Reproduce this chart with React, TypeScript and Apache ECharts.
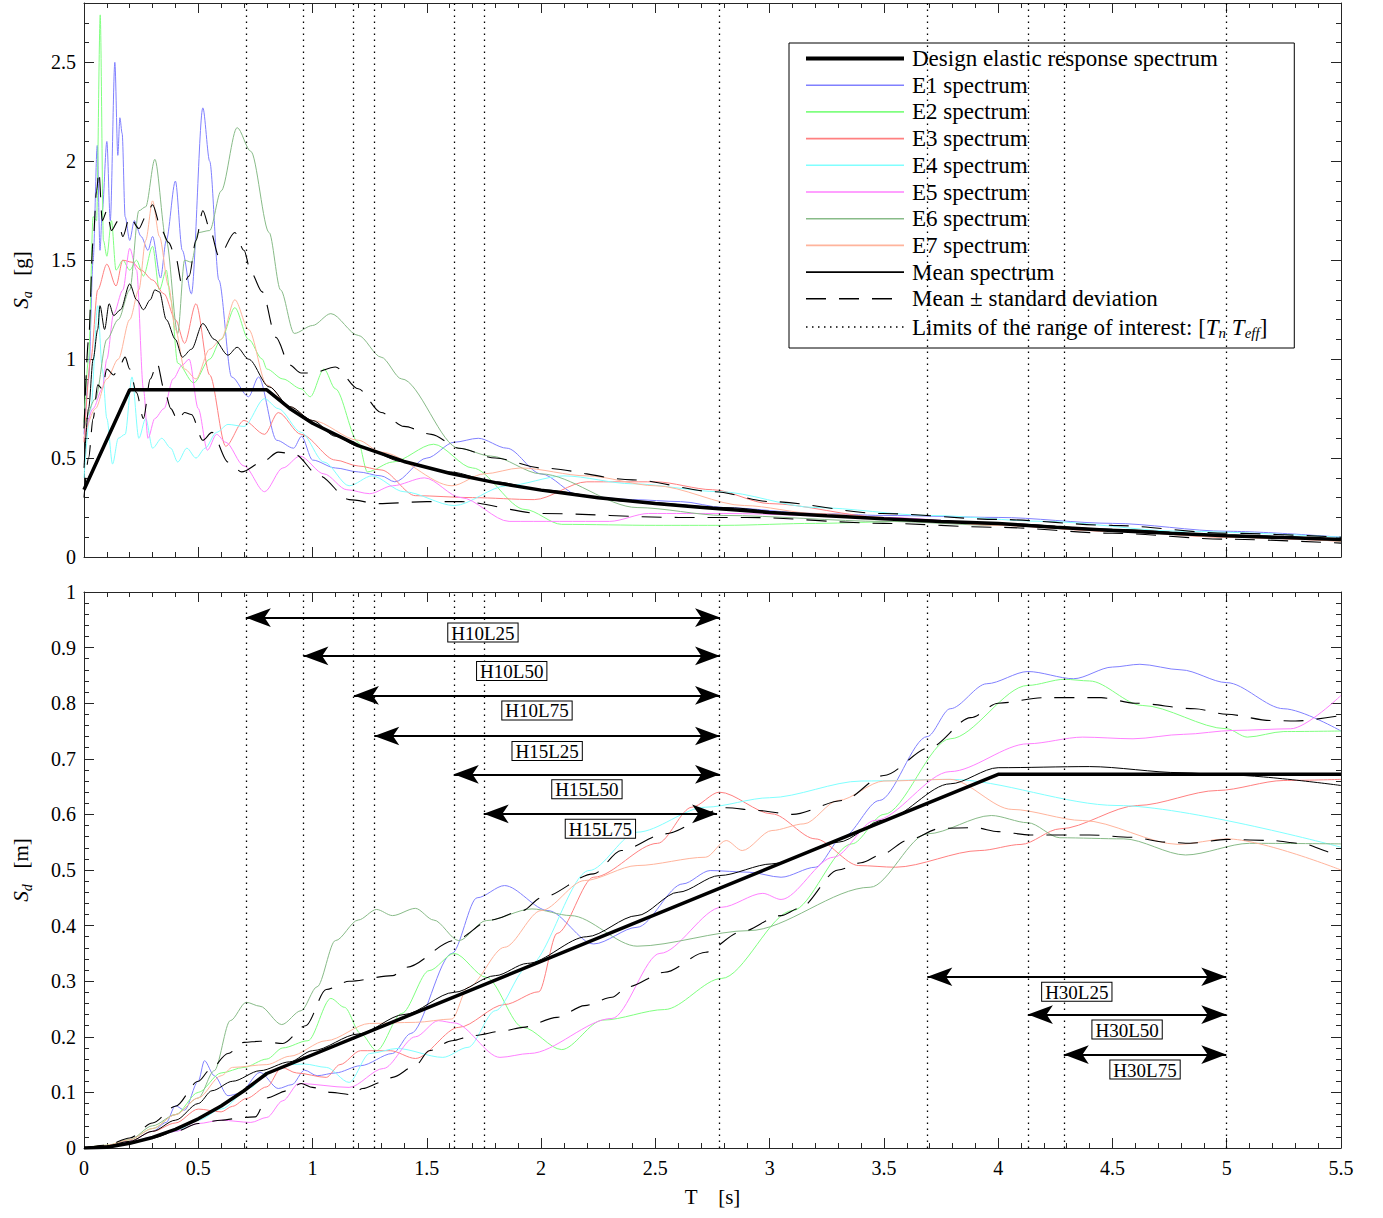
import React, { useEffect, useRef } from 'react';
import * as echarts from 'echarts';

const FONT = '"Liberation Serif", "Times New Roman", serif';
const AXIS_COLOR = '#262626';

const NAME_DESIGN = 'Design elastic response spectrum';
const NAME_E = ['E1 spectrum', 'E2 spectrum', 'E3 spectrum', 'E4 spectrum', 'E5 spectrum', 'E6 spectrum', 'E7 spectrum'];
const NAME_MEAN = 'Mean spectrum';
const NAME_STD = 'Mean \u00b1 standard deviation';
const NAME_LIM = 'Limits of the range of interest: [Tn Teff]';
const E_COLORS = ['#8080ff', '#80ff80', '#ff8080', '#80ffff', '#ff80ff', '#88bb88', '#ffb49c'];

// vertical limits of the ranges of interest [s]
const LIMITS_T = [0.708, 0.96, 1.181, 1.27, 1.618, 1.749, 2.783, 3.69, 4.13, 4.287, 4.998];
// range arrows
const RANGE_NAMES = ['H10L25', 'H10L50', 'H10L75', 'H15L25', 'H15L50', 'H15L75', 'H30L25', 'H30L50', 'H30L75'];
const RANGE_START = [0.708, 0.96, 1.181, 1.27, 1.618, 1.749, 3.69, 4.13, 4.287];
const RANGE_END = [2.783, 2.783, 2.783, 2.783, 2.783, 2.77, 4.998, 4.998, 4.998];
const RANGE_Y = [0.954, 0.885, 0.814, 0.741, 0.672, 0.601, 0.308, 0.24, 0.168];

// ---------- Sa [g] ----------
const DESIGN_SA = [[0, 0.34], [0.2, 0.845], [0.8, 0.845], [0.9, 0.751], [1.0, 0.676], [1.2, 0.563], [1.4, 0.483], [1.6, 0.423], [1.8, 0.376], [2.0, 0.338], [2.25, 0.3], [2.5, 0.27], [2.75, 0.246], [3.0, 0.225], [3.25, 0.208], [3.5, 0.193], [3.75, 0.18], [4.0, 0.169], [4.25, 0.15], [4.5, 0.134], [4.75, 0.12], [5.0, 0.108], [5.25, 0.098], [5.5, 0.089]];
const E1_SA = [[0, 0.62], [0.02, 0.9], [0.04, 1.5], [0.058, 2.08], [0.07, 1.55], [0.08, 1.75], [0.1, 2.1], [0.115, 1.7], [0.135, 2.5], [0.148, 2.03], [0.157, 2.22], [0.167, 2.14], [0.18, 1.72], [0.2, 1.6], [0.22, 1.7], [0.25, 1.62], [0.28, 1.55], [0.3, 1.62], [0.335, 1.41], [0.36, 1.6], [0.4, 1.9], [0.43, 1.55], [0.47, 1.33], [0.52, 2.27], [0.55, 2.0], [0.59, 1.4], [0.646, 0.91], [0.72, 0.81], [0.764, 0.91], [0.843, 0.59], [0.917, 0.55], [0.952, 0.61], [1.0, 0.49], [1.1, 0.45], [1.2, 0.43], [1.3, 0.41], [1.36, 0.38], [1.5, 0.5], [1.62, 0.58], [1.725, 0.6], [1.85, 0.55], [2.0, 0.42], [2.17, 0.31], [2.4, 0.29], [2.61, 0.28], [2.8, 0.25], [3.2, 0.22], [3.5, 0.21], [4.0, 0.2], [4.5, 0.17], [5.0, 0.13], [5.5, 0.1]];
const E2_SA = [[0, 0.68], [0.02, 1.0], [0.04, 1.72], [0.055, 1.7], [0.071, 2.74], [0.085, 1.6], [0.1, 1.52], [0.12, 1.7], [0.14, 1.45], [0.17, 1.5], [0.2, 1.45], [0.23, 1.5], [0.26, 1.42], [0.3, 1.57], [0.33, 1.35], [0.36, 1.45], [0.38, 1.3], [0.41, 0.98], [0.48, 0.88], [0.55, 1.0], [0.6, 1.1], [0.66, 1.26], [0.72, 1.1], [0.78, 1.0], [0.8, 0.95], [0.87, 0.9], [0.95, 0.85], [0.99, 0.81], [1.05, 0.95], [1.1, 0.85], [1.2, 0.58], [1.24, 0.43], [1.35, 0.48], [1.53, 0.57], [1.7, 0.45], [1.93, 0.24], [2.09, 0.165], [2.5, 0.16], [2.8, 0.16], [3.2, 0.17], [3.6, 0.18], [4.0, 0.17], [4.5, 0.14], [5.0, 0.11], [5.5, 0.09]];
const E3_SA = [[0, 0.58], [0.03, 1.0], [0.06, 1.35], [0.1, 1.48], [0.14, 1.37], [0.17, 1.5], [0.21, 1.49], [0.25, 1.45], [0.3, 1.4], [0.35, 1.33], [0.4, 1.2], [0.44, 1.08], [0.49, 1.28], [0.55, 0.92], [0.62, 0.56], [0.7, 0.69], [0.79, 0.62], [0.85, 0.73], [0.95, 0.62], [1.1, 0.49], [1.2, 0.46], [1.3, 0.44], [1.45, 0.31], [1.7, 0.3], [1.97, 0.29], [2.2, 0.38], [2.5, 0.38], [2.75, 0.34], [3.0, 0.27], [3.5, 0.2], [4.0, 0.16], [4.5, 0.13], [5.0, 0.1], [5.5, 0.08]];
const E4_SA = [[0, 0.4], [0.03, 0.75], [0.06, 1.27], [0.08, 0.95], [0.1, 0.7], [0.125, 0.47], [0.15, 0.6], [0.18, 0.62], [0.21, 0.91], [0.24, 0.6], [0.27, 0.7], [0.3, 0.55], [0.34, 0.6], [0.38, 0.55], [0.41, 0.48], [0.45, 0.55], [0.49, 0.5], [0.53, 0.55], [0.58, 0.63], [0.63, 0.67], [0.7, 0.66], [0.79, 0.8], [0.85, 0.75], [0.95, 0.63], [1.05, 0.48], [1.16, 0.36], [1.26, 0.41], [1.4, 0.33], [1.62, 0.26], [1.85, 0.36], [2.1, 0.41], [2.4, 0.37], [2.78, 0.33], [3.2, 0.25], [3.7, 0.21], [4.2, 0.18], [4.8, 0.13], [5.5, 0.1]];
const E5_SA = [[0, 0.6], [0.04, 0.75], [0.08, 0.85], [0.1, 1.0], [0.13, 1.23], [0.17, 1.35], [0.2, 1.56], [0.23, 1.45], [0.26, 0.85], [0.28, 0.6], [0.31, 0.7], [0.35, 0.75], [0.39, 0.9], [0.43, 0.97], [0.46, 1.0], [0.5, 0.75], [0.54, 0.54], [0.58, 0.62], [0.62, 0.58], [0.7, 0.46], [0.79, 0.33], [0.87, 0.45], [0.945, 0.51], [1.05, 0.42], [1.15, 0.34], [1.25, 0.32], [1.35, 0.36], [1.49, 0.4], [1.65, 0.3], [1.86, 0.18], [2.3, 0.18], [2.47, 0.22], [2.8, 0.22], [3.5, 0.2], [4.0, 0.17], [4.5, 0.14], [5.0, 0.11], [5.5, 0.09]];
const E6_SA = [[0, 0.65], [0.05, 0.8], [0.1, 1.1], [0.15, 1.2], [0.2, 1.35], [0.24, 1.75], [0.27, 1.77], [0.31, 2.01], [0.36, 1.6], [0.41, 1.13], [0.44, 1.5], [0.47, 1.49], [0.5, 1.64], [0.55, 1.65], [0.6, 1.85], [0.67, 2.17], [0.73, 2.05], [0.81, 1.64], [0.86, 1.35], [0.92, 1.13], [1.0, 1.17], [1.08, 1.23], [1.2, 1.12], [1.3, 1.01], [1.39, 0.9], [1.64, 0.55], [1.78, 0.51], [2.0, 0.42], [2.42, 0.25], [2.8, 0.21], [3.5, 0.18], [4.0, 0.16], [4.5, 0.14], [5.0, 0.11], [5.5, 0.08]];
const E7_SA = [[0, 0.6], [0.05, 0.75], [0.1, 0.9], [0.15, 1.0], [0.2, 1.2], [0.24, 1.35], [0.27, 1.6], [0.3, 1.8], [0.33, 1.62], [0.37, 1.37], [0.4, 1.15], [0.44, 0.95], [0.49, 0.9], [0.55, 1.05], [0.6, 1.1], [0.66, 1.3], [0.72, 1.15], [0.8, 0.87], [0.9, 0.76], [1.0, 0.69], [1.2, 0.59], [1.3, 0.53], [1.61, 0.36], [1.75, 0.42], [1.91, 0.45], [2.2, 0.41], [2.5, 0.36], [2.89, 0.26], [3.2, 0.22], [3.6, 0.19], [4.0, 0.16], [4.5, 0.13], [5.0, 0.1], [5.5, 0.08]];
const MEAN_SA = [[0, 0.45], [0.02, 0.75], [0.04, 1.0], [0.06, 1.15], [0.07, 1.27], [0.09, 1.15], [0.11, 1.28], [0.13, 1.22], [0.16, 1.25], [0.2, 1.38], [0.23, 1.3], [0.26, 1.25], [0.29, 1.3], [0.31, 1.35], [0.33, 1.34], [0.36, 1.2], [0.4, 1.1], [0.43, 1.01], [0.47, 1.05], [0.52, 1.18], [0.57, 1.1], [0.63, 1.02], [0.67, 1.06], [0.72, 1.0], [0.81, 0.86], [0.9, 0.76], [1.0, 0.69], [1.1, 0.61], [1.2, 0.56], [1.4, 0.48], [1.6, 0.43], [1.8, 0.38], [2.0, 0.34], [2.4, 0.28], [2.8, 0.25], [3.2, 0.21], [3.6, 0.19], [4.0, 0.17], [4.5, 0.14], [5.0, 0.11], [5.5, 0.09]];
const MEANP_SA = [[0, 0.65], [0.02, 1.1], [0.04, 1.6], [0.055, 1.85], [0.065, 1.95], [0.08, 1.7], [0.1, 1.75], [0.12, 1.65], [0.15, 1.7], [0.17, 1.62], [0.2, 1.72], [0.24, 1.66], [0.27, 1.72], [0.3, 1.78], [0.34, 1.65], [0.37, 1.59], [0.4, 1.52], [0.43, 1.37], [0.46, 1.42], [0.49, 1.6], [0.52, 1.75], [0.55, 1.66], [0.59, 1.52], [0.66, 1.64], [0.7, 1.55], [0.73, 1.44], [0.78, 1.34], [0.84, 1.11], [0.9, 0.97], [0.95, 0.93], [1.0, 0.93], [1.1, 0.96], [1.2, 0.85], [1.3, 0.73], [1.4, 0.66], [1.52, 0.62], [1.64, 0.55], [1.8, 0.5], [2.0, 0.45], [2.4, 0.39], [2.76, 0.33], [3.0, 0.28], [3.49, 0.22], [4.0, 0.19], [4.5, 0.16], [5.0, 0.12], [5.5, 0.1]];
const MEANM_SA = [[0, 0.3], [0.02, 0.5], [0.04, 0.7], [0.06, 0.87], [0.08, 0.85], [0.1, 0.95], [0.13, 0.92], [0.15, 0.95], [0.18, 1.01], [0.2, 0.95], [0.23, 0.83], [0.26, 0.7], [0.29, 0.9], [0.32, 0.98], [0.35, 0.85], [0.38, 0.75], [0.41, 0.69], [0.44, 0.73], [0.47, 0.72], [0.52, 0.59], [0.56, 0.63], [0.63, 0.48], [0.69, 0.43], [0.78, 0.48], [0.85, 0.53], [0.92, 0.52], [1.03, 0.41], [1.16, 0.29], [1.29, 0.27], [1.5, 0.28], [1.65, 0.28], [2.0, 0.22], [2.6, 0.2], [2.9, 0.2], [3.5, 0.17], [4.0, 0.15], [4.5, 0.12], [5.0, 0.09], [5.5, 0.07]];

// ---------- Sd [m] ----------
const DESIGN_SD = [[0, 0], [0.1, 0.0015], [0.2, 0.0084], [0.3, 0.019], [0.4, 0.0336], [0.5, 0.0525], [0.6, 0.0756], [0.7, 0.103], [0.8, 0.134], [4.0, 0.672], [5.5, 0.672]];
const E1_SD = [[0, 0], [0.1, 0.004], [0.2, 0.012], [0.3, 0.03], [0.36, 0.046], [0.4, 0.076], [0.44, 0.068], [0.5, 0.12], [0.527, 0.157], [0.57, 0.13], [0.63, 0.094], [0.68, 0.098], [0.77, 0.136], [0.85, 0.107], [0.91, 0.114], [0.965, 0.14], [1.02, 0.13], [1.1, 0.135], [1.21, 0.148], [1.35, 0.17], [1.43, 0.206], [1.61, 0.35], [1.72, 0.45], [1.84, 0.472], [2.03, 0.427], [2.23, 0.367], [2.42, 0.397], [2.62, 0.475], [2.74, 0.499], [2.91, 0.496], [3.05, 0.487], [3.2, 0.505], [3.32, 0.559], [3.48, 0.625], [3.69, 0.74], [3.79, 0.79], [3.95, 0.835], [4.13, 0.857], [4.33, 0.844], [4.5, 0.865], [4.62, 0.87], [4.8, 0.86], [5.0, 0.837], [5.25, 0.79], [5.5, 0.75]];
const E2_SD = [[0, 0], [0.1, 0.005], [0.2, 0.015], [0.3, 0.035], [0.4, 0.06], [0.5, 0.1], [0.6, 0.135], [0.7, 0.145], [0.8, 0.16], [0.87, 0.18], [0.98, 0.193], [1.08, 0.269], [1.14, 0.253], [1.21, 0.206], [1.28, 0.175], [1.39, 0.242], [1.51, 0.319], [1.62, 0.35], [1.76, 0.307], [1.92, 0.217], [2.09, 0.177], [2.27, 0.23], [2.54, 0.249], [2.79, 0.305], [3.1, 0.427], [3.36, 0.547], [3.5, 0.6], [3.79, 0.736], [4.13, 0.832], [4.29, 0.843], [4.4, 0.84], [4.63, 0.796], [5.0, 0.754], [5.09, 0.739], [5.25, 0.749], [5.5, 0.75]];
const E3_SD = [[0, 0], [0.1, 0.004], [0.2, 0.012], [0.3, 0.03], [0.4, 0.045], [0.5, 0.07], [0.6, 0.065], [0.65, 0.075], [0.71, 0.089], [0.8, 0.11], [0.865, 0.145], [0.93, 0.135], [1.06, 0.127], [1.12, 0.15], [1.21, 0.175], [1.34, 0.175], [1.45, 0.161], [1.64, 0.217], [1.84, 0.258], [1.99, 0.281], [2.07, 0.386], [2.23, 0.487], [2.51, 0.548], [2.66, 0.613], [2.78, 0.64], [3.01, 0.601], [3.2, 0.556], [3.39, 0.508], [3.55, 0.505], [3.92, 0.535], [4.1, 0.546], [4.27, 0.574], [4.61, 0.616], [4.96, 0.643], [5.25, 0.661], [5.5, 0.663]];
const E4_SD = [[0, 0], [0.1, 0.003], [0.2, 0.01], [0.3, 0.02], [0.4, 0.03], [0.5, 0.05], [0.6, 0.07], [0.73, 0.109], [0.8, 0.136], [0.9, 0.15], [0.965, 0.151], [1.06, 0.145], [1.16, 0.118], [1.25, 0.17], [1.37, 0.179], [1.57, 0.163], [1.68, 0.181], [1.8, 0.247], [1.94, 0.325], [2.21, 0.499], [2.42, 0.568], [2.72, 0.613], [3.0, 0.63], [3.4, 0.66], [3.79, 0.663], [4.52, 0.616], [5.5, 0.541]];
const E5_SD = [[0, 0], [0.1, 0.003], [0.2, 0.01], [0.3, 0.02], [0.4, 0.03], [0.5, 0.044], [0.6, 0.05], [0.73, 0.046], [0.8, 0.055], [0.87, 0.085], [0.94, 0.116], [1.16, 0.109], [1.31, 0.143], [1.45, 0.2], [1.55, 0.229], [1.62, 0.225], [1.82, 0.163], [1.95, 0.17], [2.31, 0.233], [2.52, 0.35], [2.79, 0.433], [2.97, 0.458], [3.05, 0.447], [3.28, 0.523], [3.46, 0.589], [3.79, 0.677], [4.13, 0.727], [4.37, 0.739], [4.59, 0.736], [4.81, 0.744], [5.03, 0.751], [5.28, 0.754], [5.5, 0.814]];
const E6_SD = [[0, 0], [0.1, 0.004], [0.2, 0.015], [0.3, 0.04], [0.4, 0.06], [0.5, 0.09], [0.57, 0.139], [0.64, 0.229], [0.71, 0.262], [0.77, 0.255], [0.865, 0.222], [0.95, 0.247], [1.02, 0.29], [1.1, 0.373], [1.2, 0.41], [1.28, 0.429], [1.35, 0.418], [1.45, 0.431], [1.53, 0.41], [1.64, 0.373], [1.76, 0.409], [1.96, 0.43], [2.13, 0.418], [2.42, 0.363], [2.91, 0.391], [3.44, 0.469], [3.69, 0.565], [3.97, 0.598], [4.13, 0.585], [4.27, 0.558], [4.55, 0.556], [4.82, 0.527], [5.1, 0.548], [5.5, 0.547]];
const E7_SD = [[0, 0], [0.1, 0.005], [0.2, 0.015], [0.3, 0.035], [0.4, 0.06], [0.5, 0.09], [0.6, 0.13], [0.65, 0.145], [0.8, 0.15], [0.9, 0.165], [1.06, 0.193], [1.25, 0.224], [1.45, 0.226], [1.61, 0.232], [1.68, 0.289], [1.84, 0.361], [2.0, 0.427], [2.19, 0.481], [2.42, 0.508], [2.72, 0.523], [2.81, 0.553], [2.88, 0.535], [3.01, 0.571], [3.15, 0.583], [3.3, 0.625], [3.5, 0.66], [3.79, 0.663], [4.06, 0.609], [4.37, 0.589], [4.79, 0.546], [5.0, 0.556], [5.5, 0.5]];
const MEAN_SD = [[0, 0], [0.1, 0.004], [0.2, 0.012], [0.3, 0.03], [0.4, 0.05], [0.5, 0.08], [0.56, 0.103], [0.65, 0.12], [0.77, 0.139], [0.9, 0.155], [1.0, 0.175], [1.2, 0.205], [1.4, 0.24], [1.62, 0.28], [1.8, 0.31], [1.94, 0.332], [2.2, 0.38], [2.42, 0.418], [2.6, 0.46], [2.78, 0.49], [3.01, 0.511], [3.3, 0.55], [3.5, 0.59], [3.79, 0.655], [4.0, 0.684], [4.4, 0.686], [4.8, 0.675], [5.0, 0.671], [5.5, 0.652]];
const MEANP_SD = [[0, 0], [0.1, 0.005], [0.2, 0.018], [0.3, 0.045], [0.4, 0.075], [0.5, 0.12], [0.55, 0.14], [0.63, 0.17], [0.7, 0.19], [0.77, 0.192], [0.87, 0.188], [0.97, 0.22], [1.06, 0.285], [1.16, 0.3], [1.35, 0.31], [1.41, 0.325], [1.62, 0.373], [1.78, 0.41], [1.92, 0.427], [2.0, 0.45], [2.23, 0.493], [2.35, 0.535], [2.54, 0.565], [2.81, 0.612], [2.95, 0.607], [3.1, 0.6], [3.32, 0.625], [3.5, 0.67], [3.7, 0.72], [3.88, 0.774], [4.0, 0.8], [4.2, 0.81], [4.45, 0.81], [4.6, 0.8], [4.86, 0.79], [5.0, 0.78], [5.19, 0.769], [5.3, 0.768], [5.5, 0.778]];
const MEANM_SD = [[0, 0], [0.1, 0.002], [0.2, 0.008], [0.3, 0.018], [0.4, 0.03], [0.5, 0.044], [0.6, 0.05], [0.7, 0.055], [0.75, 0.056], [0.8, 0.09], [0.89, 0.103], [0.95, 0.116], [1.0, 0.109], [1.08, 0.1], [1.17, 0.096], [1.22, 0.107], [1.3, 0.118], [1.35, 0.127], [1.45, 0.148], [1.51, 0.175], [1.61, 0.193], [1.7, 0.202], [1.84, 0.211], [1.92, 0.217], [2.07, 0.235], [2.19, 0.256], [2.31, 0.271], [2.38, 0.29], [2.54, 0.316], [2.72, 0.352], [2.87, 0.388], [3.05, 0.418], [3.13, 0.431], [3.3, 0.5], [3.4, 0.513], [3.5, 0.53], [3.6, 0.553], [3.75, 0.575], [3.9, 0.576], [4.0, 0.569], [4.14, 0.563], [4.4, 0.563], [4.58, 0.559], [4.74, 0.55], [4.84, 0.548], [5.0, 0.555], [5.2, 0.553], [5.32, 0.548], [5.48, 0.53], [5.5, 0.53]];

const E_SA = [E1_SA, E2_SA, E3_SA, E4_SA, E5_SA, E6_SA, E7_SA];
const E_SD = [E1_SD, E2_SD, E3_SD, E4_SD, E5_SD, E6_SD, E7_SD];

const DASH = [20, 13];
const DOT = [1.5, 4.5];

const RICH = {
  i: { fontFamily: FONT, fontStyle: 'italic', fontSize: 21, lineHeight: 26, verticalAlign: 'middle', color: '#000' },
  sub: { fontFamily: FONT, fontStyle: 'italic', fontSize: 14, lineHeight: 14, verticalAlign: 'bottom', color: '#000' },
};
const LEG_RICH = {
  i: { fontFamily: FONT, fontStyle: 'italic', fontSize: 23, lineHeight: 26, verticalAlign: 'middle', color: '#000' },
  sub: { fontFamily: FONT, fontStyle: 'italic', fontSize: 15, lineHeight: 15, verticalAlign: 'bottom', color: '#000' },
};

function xAxis(grid: number, pos: string, showLabel: boolean, extra: any = {}) {
  return {
    type: 'value', gridIndex: grid, position: pos, min: 0, max: 5.5, interval: 0.5,
    axisLine: { show: true, onZero: false, lineStyle: { color: AXIS_COLOR, width: 1 } },
    axisTick: { show: true, inside: true, length: 10, lineStyle: { color: AXIS_COLOR } },
    minorTick: { show: true, splitNumber: 5, length: 5, lineStyle: { color: AXIS_COLOR } },
    splitLine: { show: false }, minorSplitLine: { show: false },
    axisLabel: { show: showLabel, color: '#000', fontFamily: FONT, fontSize: 20, margin: 10 },
    ...extra,
  };
}

function yAxis(grid: number, pos: string, max: number, interval: number, opts: any) {
  return {
    type: 'value', gridIndex: grid, position: pos, min: 0, max, interval,
    axisLine: { show: opts.line, onZero: false, lineStyle: { color: AXIS_COLOR, width: 1 } },
    axisTick: { show: true, inside: true, length: opts.tick, lineStyle: { color: AXIS_COLOR } },
    minorTick: { show: !!opts.minor, splitNumber: 5, length: 5, lineStyle: { color: AXIS_COLOR } },
    splitLine: { show: false }, minorSplitLine: { show: false },
    axisLabel: { show: opts.label, color: '#000', fontFamily: FONT, fontSize: 20, margin: 8, showMaxLabel: opts.showMax !== false },
    ...(opts.extra || {}),
  };
}

function line(name: string, data: number[][], color: string, width: number, type: any, xi: number, yi: number, z: number, smooth: number) {
  return {
    type: 'line', name, data, xAxisIndex: xi, yAxisIndex: yi, symbol: 'none', showSymbol: false,
    smooth, smoothMonotone: 'x',
    color, lineStyle: { color, width, type }, emphasis: { disabled: true }, silent: true, z, animation: false,
  };
}

function limitsSeries(xi: number, yi: number) {
  return {
    type: 'line', name: NAME_LIM, data: [], xAxisIndex: xi, yAxisIndex: yi, symbol: 'none',
    color: '#000', lineStyle: { color: '#000', width: 1.3, type: DOT }, silent: true, z: 1,
    markLine: {
      silent: true, animation: false, symbol: ['none', 'none'], label: { show: false },
      emphasis: { disabled: true },
      lineStyle: { color: '#000', width: 1.3, type: DOT },
      data: LIMITS_T.map((v) => ({ xAxis: v })),
    },
  };
}

export default function App() {
  const ref = useRef<HTMLDivElement>(null);
  useEffect(() => {
    const chart = echarts.init(ref.current!, null, { renderer: 'svg' });
    const series: any[] = [];
    const SM = 0.3;
    // top
    series.push(limitsSeries(0, 0));
    E_SA.forEach((d, i) => series.push(line(NAME_E[i], d, E_COLORS[i], 1, 'solid', 0, 0, 2, SM)));
    series.push(line(NAME_MEAN, MEAN_SA, '#000', 1, 'solid', 0, 0, 3, SM));
    series.push(line(NAME_STD, MEANP_SA, '#000', 1.1, DASH, 0, 0, 3, SM));
    series.push(line(NAME_STD, MEANM_SA, '#000', 1.1, DASH, 0, 0, 3, SM));
    series.push(line(NAME_DESIGN, DESIGN_SA, '#000', 3.5, 'solid', 0, 0, 4, 0));
    // bottom
    series.push(limitsSeries(2, 4));
    E_SD.forEach((d, i) => series.push(line(NAME_E[i], d, E_COLORS[i], 1, 'solid', 2, 4, 2, SM)));
    series.push(line(NAME_MEAN, MEAN_SD, '#000', 1, 'solid', 2, 4, 3, SM));
    series.push(line(NAME_STD, MEANP_SD, '#000', 1.1, DASH, 2, 4, 3, SM));
    series.push(line(NAME_STD, MEANM_SD, '#000', 1.1, DASH, 2, 4, 3, SM));
    series.push(line(NAME_DESIGN, DESIGN_SD, '#000', 3.5, 'solid', 2, 4, 4, 0));
    const arrowEnd = { symbol: 'arrow', symbolSize: [14, 25] };
    series.push({
      type: 'line', name: 'ranges', data: [], xAxisIndex: 2, yAxisIndex: 4, symbol: 'none', silent: true, z: 6,
      markLine: {
        silent: true, animation: false,
        symbol: ['arrow', 'arrow'],
        emphasis: { disabled: true },
        lineStyle: { color: '#000', width: 1.8, type: 'solid' },
        itemStyle: { color: '#000' },
        label: {
          show: true, position: 'insideMiddleBottom', distance: 6, formatter: '{b}',
          color: '#000', fontFamily: FONT, fontSize: 19, lineHeight: 17,
          backgroundColor: '#fff', borderColor: '#000', borderWidth: 1, padding: [1, 3, 0, 3],
        },
        data: RANGE_NAMES.map((n, i) => [
          { name: n, coord: [RANGE_START[i], RANGE_Y[i]], ...arrowEnd },
          { name: n, coord: [RANGE_END[i], RANGE_Y[i]], ...arrowEnd },
        ]),
      },
    });

    const legendNames = [NAME_DESIGN, ...NAME_E, NAME_MEAN, NAME_STD, NAME_LIM];
    const option: any = {
      animation: false,
      backgroundColor: '#fff',
      textStyle: { fontFamily: FONT },
      grid: [
        { left: 82, top: 3, width: 1259, height: 554, containLabel: false },
        { left: 82, top: 592, width: 1259, height: 556, containLabel: false },
      ],
      xAxis: [
        xAxis(0, 'bottom', false),
        xAxis(0, 'top', false),
        xAxis(1, 'bottom', true, {
          name: 'T    [s]', nameLocation: 'middle', nameGap: 38,
          nameTextStyle: { color: '#000', fontFamily: FONT, fontSize: 21 },
        }),
        xAxis(1, 'top', false),
      ],
      yAxis: [
        yAxis(0, 'left', 2.8, 0.5, {
          line: true, tick: 10, label: true, showMax: false,
          extra: {
            name: '{i|S}{sub|a}   [g]', nameLocation: 'middle', nameGap: 50, nameRotate: 90,
            nameTextStyle: { color: '#000', fontFamily: FONT, fontSize: 21, lineHeight: 26, rich: RICH },
          },
        }),
        yAxis(0, 'left', 2.8, 0.1, { line: false, tick: 5, label: false }),
        yAxis(0, 'right', 2.8, 0.5, { line: true, tick: 10, label: false }),
        yAxis(0, 'right', 2.8, 0.1, { line: false, tick: 5, label: false }),
        yAxis(1, 'left', 1, 0.1, {
          line: true, tick: 10, label: true, minor: true,
          extra: {
            name: '{i|S}{sub|d}   [m]', nameLocation: 'middle', nameGap: 50, nameRotate: 90,
            nameTextStyle: { color: '#000', fontFamily: FONT, fontSize: 21, lineHeight: 26, rich: RICH },
          },
        }),
        yAxis(1, 'right', 1, 0.1, { line: true, tick: 10, label: false, minor: true }),
      ],
      legend: {
        show: true, orient: 'vertical', left: 789, top: 43, selectedMode: false,
        data: legendNames.map((n) => ({ name: n, lineStyle: { width: n === NAME_DESIGN ? 4 : 1.6 } })),
        itemWidth: 98, itemHeight: 14, itemGap: 3.7,
        padding: [4, 27, 8, 15],
        itemStyle: { opacity: 0 },
        lineStyle: { width: 'inherit' },
        backgroundColor: '#fff', borderColor: '#000', borderWidth: 1, borderRadius: 0,
        textStyle: { color: '#000', fontFamily: FONT, fontSize: 23, lineHeight: 23, padding: [0, 0, 0, 3], rich: LEG_RICH },
        formatter: (name: string) =>
          name === NAME_LIM ? 'Limits of the range of interest: [{i|T}{sub|n} {i|T}{sub|eff}]' : name,
      },
      series,
    };
    chart.setOption(option);
    return () => chart.dispose();
  }, []);
  return <div ref={ref} style={{ position: 'fixed', left: 0, top: 0, width: 1383, height: 1218, background: '#fff' }} />;
}
